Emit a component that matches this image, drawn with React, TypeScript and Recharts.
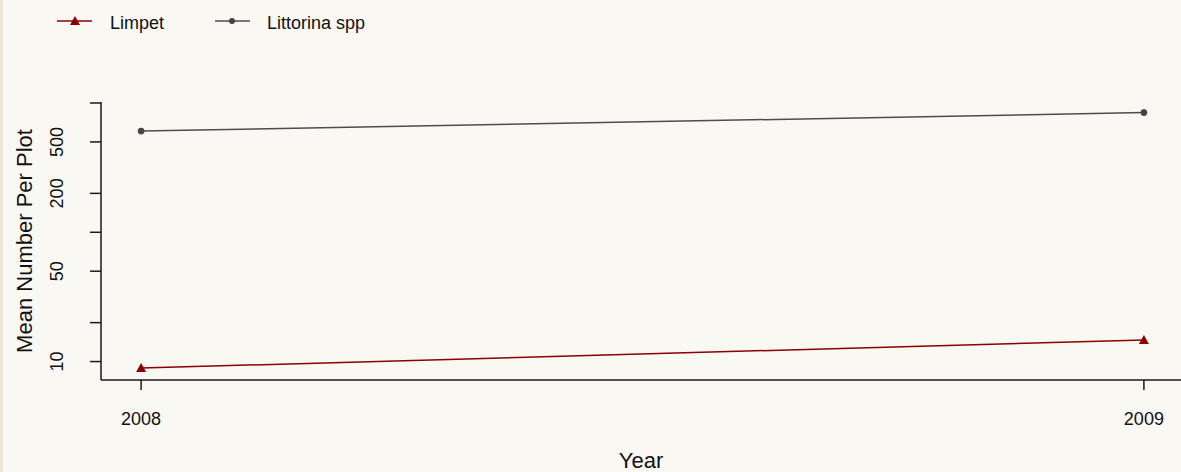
import { LineChart, Line, XAxis, YAxis, Legend, Label } from 'recharts';

// values (log y axis)
const years = [2008, 2009];
const limpet = [8.9, 14.7];
const littorina = [606, 843];

const yTicks = [10, 20, 50, 100, 200, 500, 1000];
const yLabelled = [10, 50, 200, 500];
const xTicks = [2008, 2009];

const FONT = '"Liberation Sans", Arial, sans-serif';
const LIMPET_COLOR = '#8b0000';
const LITT_COLOR = '#4d4d4d';

const data = years.map((y, i) => ({ year: y, limpet: limpet[i], littorina: littorina[i] }));

const Triangle = (props: any) => {
  const { cx, cy } = props;
  if (cx == null || cy == null) return null;
  return <polygon points={`${cx},${cy - 5} ${cx - 5},${cy + 4} ${cx + 5},${cy + 4}`} fill={LIMPET_COLOR} />;
};

const YTick = (props: any) => {
  const { x, y, payload } = props;
  if (!yLabelled.includes(payload.value)) return <g />;
  const cx = x - 31;
  return (
    <text
      x={cx}
      y={y}
      transform={`rotate(-90 ${cx} ${y})`}
      textAnchor="middle"
      dominantBaseline="central"
      fontSize={18}
      fontFamily={FONT}
      fill="#111"
    >
      {payload.value}
    </text>
  );
};

const XTick = (props: any) => {
  const { x, y, payload } = props;
  return (
    <text x={x} y={y + 33} textAnchor="middle" fontSize={18} fontFamily={FONT} fill="#111">
      {payload.value}
    </text>
  );
};

const LegendContent = () => (
  <svg width={420} height={44}>
    <line x1={57} x2={92} y1={21} y2={21} stroke={LIMPET_COLOR} strokeWidth={1.5} />
    <polygon points="75,16 70,25 80,25" fill={LIMPET_COLOR} />
    <text x={110} y={29} fontSize={18} fontFamily={FONT} fill="#111">Limpet</text>
    <line x1={215} x2={250} y1={21} y2={21} stroke={LITT_COLOR} strokeWidth={1.5} />
    <circle cx={232} cy={21} r={3} fill="#444" />
    <text x={267} y={29} fontSize={18} fontFamily={FONT} fill="#111">Littorina spp</text>
  </svg>
);

export default function App() {
  return (
    <div
      style={{
        position: 'absolute',
        left: 0,
        top: 0,
        width: 1181,
        height: 472,
        background: '#f9f8f3',
        overflow: 'hidden',
        boxShadow: 'inset 3px 0 0 #ece6d6',
      }}
    >
      <LineChart width={1181} height={472} data={data} margin={{ top: 102, right: 0, left: 0, bottom: 0 }}>
        <Legend
          layout="horizontal"
          verticalAlign="middle"
          align="center"
          content={<LegendContent />}
          wrapperStyle={{ position: 'absolute', top: 0, left: 0, width: 420, height: 44 }}
        />
        <XAxis
          dataKey="year"
          type="number"
          domain={[2007.96, 2009.037]}
          allowDataOverflow
          ticks={xTicks}
          height={92}
          tickSize={10}
          tick={<XTick />}
          axisLine={{ stroke: '#1a1a1a', strokeWidth: 1.5 }}
          tickLine={{ stroke: '#1a1a1a', strokeWidth: 1.5 }}
        >
          <Label
            content={(p: any) => {
              const vb = p.viewBox;
              return (
                <text x={vb.x + vb.width / 2} y={468} textAnchor="middle" fontSize={22} fontFamily={FONT} fill="#111">
                  Year
                </text>
              );
            }}
          />
        </XAxis>
        <XAxis
          xAxisId="top"
          orientation="top"
          type="number"
          domain={[2007.96, 2009.037]}
          height={0}
          tick={false}
          tickLine={false}
          axisLine={{ stroke: '#1a1a1a', strokeWidth: 1.5 }}
        />
        <YAxis
          scale="log"
          type="number"
          domain={[7.2, 1018]}
          allowDataOverflow
          ticks={yTicks}
          width={101}
          tickSize={11}
          tick={<YTick />}
          axisLine={{ stroke: '#1a1a1a', strokeWidth: 1.5 }}
          tickLine={{ stroke: '#1a1a1a', strokeWidth: 1.5 }}
        >
          <Label
            content={(p: any) => {
              const vb = p.viewBox;
              const cy = vb.y + vb.height / 2;
              return (
                <text
                  x={24}
                  y={cy}
                  transform={`rotate(-90 24 ${cy})`}
                  textAnchor="middle"
                  dominantBaseline="central"
                  fontSize={22}
                  fontFamily={FONT}
                  fill="#111"
                >
                  Mean Number Per Plot
                </text>
              );
            }}
          />
        </YAxis>
        <Line
          dataKey="littorina"
          stroke={LITT_COLOR}
          strokeWidth={1.5}
          dot={{ r: 3, fill: '#444', stroke: '#444', strokeWidth: 1 }}
          isAnimationActive={false}
        />
        <Line
          dataKey="limpet"
          stroke={LIMPET_COLOR}
          strokeWidth={1.5}
          dot={<Triangle />}
          isAnimationActive={false}
        />
      </LineChart>
    </div>
  );
}
